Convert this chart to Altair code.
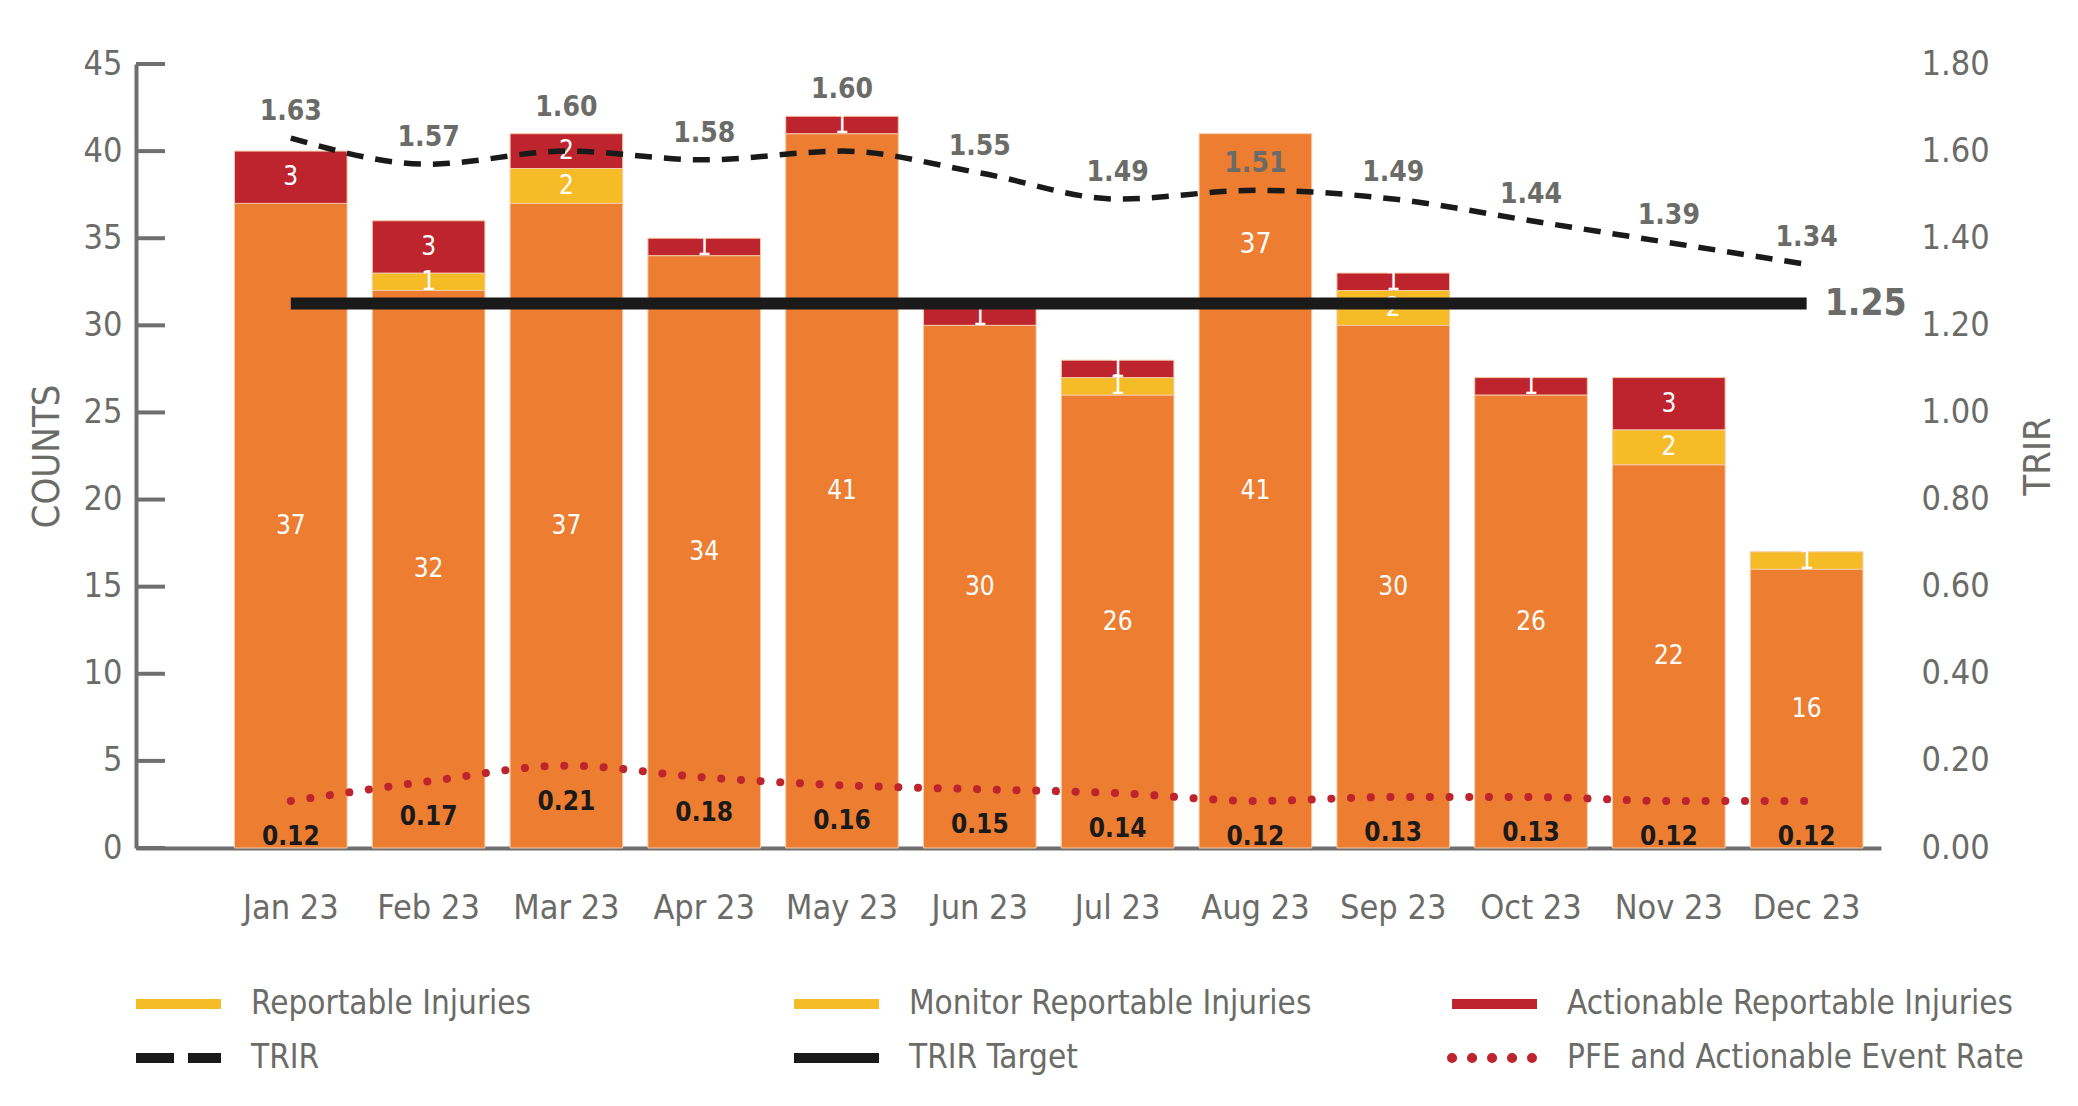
import altair as alt
import pandas as pd

# data
months = ["Jan 23", "Feb 23", "Mar 23", "Apr 23", "May 23", "Jun 23",
          "Jul 23", "Aug 23", "Sep 23", "Oct 23", "Nov 23", "Dec 23"]
reportable = [37, 32, 37, 34, 41, 30, 26, 41, 30, 26, 22, 16]
monitor = [0, 1, 2, 0, 0, 0, 1, 0, 2, 0, 2, 1]
actionable = [3, 3, 2, 1, 1, 1, 1, 0, 1, 1, 3, 0]
trir = [1.63, 1.57, 1.60, 1.58, 1.60, 1.55, 1.49, 1.51, 1.49, 1.44, 1.39, 1.34]
pfe_rate = [0.12, 0.17, 0.21, 0.18, 0.16, 0.15, 0.14, 0.12, 0.13, 0.13, 0.12, 0.12]
trir_target = 1.25
count_ticks = [0, 5, 10, 15, 20, 25, 30, 35, 40, 45]
trir_ticks = [0, 0.2, 0.4, 0.6, 0.8, 1.0, 1.2, 1.4, 1.6, 1.8]
extra_month = "Aug 23"
extra_label = "37"

series_names = ["Reportable Injuries", "Monitor Reportable Injuries", "Actionable Reportable Injuries"]
series_colors = ["#ED7D31", "#F5BC28", "#BE242D"]

legend_names = ["Reportable Injuries", "Monitor Reportable Injuries", "Actionable Reportable Injuries",
                "TRIR", "TRIR Target", "PFE and Actionable Event Rate"]
legend_colors = ["#F5BC28", "#F5BC28", "#BE242D", "#1a1a1a", "#1a1a1a", "#BE242D"]
legend_styles = ["solid", "solid", "solid", "dash", "solid", "dot"]

FONT = "DejaVu Sans Condensed, DejaVu Sans, sans-serif"
GRAY = "#6b6b68"
W, H = 1745, 784

# tables
rows = []
for i, m in enumerate(months):
    for k, vals in enumerate([reportable, monitor, actionable]):
        if vals[i] > 0:
            rows.append({"month": m, "series": series_names[k], "order": k, "count": vals[i]})
bars_df = pd.DataFrame(rows)
totals = [reportable[i] + monitor[i] + actionable[i] for i in range(len(months))]
line_df = pd.DataFrame({"month": months, "trir": trir, "pfe": pfe_rate, "total": totals})
target_df = pd.DataFrame({"month": [months[0], months[-1]], "target": [trir_target] * 2})
extra_df = pd.DataFrame({"month": [extra_month], "top": [totals[months.index(extra_month)]],
                         "label": [extra_label]})

x_scale = alt.Scale(paddingInner=0.183, paddingOuter=0.423, align=0.845)
x_enc = alt.X("month:N", sort=months, scale=x_scale,
              axis=alt.Axis(title=None, ticks=False, labelAngle=0, labelFontSize=34, labelColor=GRAY,
                            labelPadding=43, domainColor="#6f6f6f", domainWidth=4))
yl_scale = alt.Scale(domain=[0, 45], nice=False)
yr_scale = alt.Scale(domain=[0, 1.8], nice=False)
yp_scale = alt.Scale(domain=[0, 2.0], nice=False)

# left: stacked counts
stacked = alt.Chart(bars_df).transform_stack(
    stack="count", groupby=["month"], sort=[alt.SortField("order")], as_=["y0", "y1"]
).transform_calculate(mid="(datum.y0 + datum.y1) / 2")

bars = stacked.mark_bar(stroke="#f6c9a6", strokeWidth=1).encode(
    x=x_enc,
    y=alt.Y("y0:Q", scale=yl_scale,
            axis=alt.Axis(values=count_ticks, ticks=False, grid=False, domainColor="#6f6f6f", domainWidth=4,
                          labelFontSize=34, labelColor=GRAY, labelPadding=14,
                          title="COUNTS", titleFontSize=38, titleFontWeight="normal", titleColor=GRAY,
                          titlePadding=17)),
    y2="y1:Q",
    color=alt.Color("series:N", scale=alt.Scale(domain=series_names, range=series_colors), legend=None),
)
bar_labels = stacked.mark_text(color="white", fontSize=26, baseline="middle").encode(
    x=x_enc, y=alt.Y("mid:Q", scale=yl_scale), text="count:Q"
)
extra = alt.Chart(extra_df).mark_text(color="white", fontSize=28, baseline="middle", dy=111).encode(
    x=x_enc, y=alt.Y("top:Q", scale=yl_scale), text="label:N"
)
left_ticks = alt.Chart(pd.DataFrame({"v": count_ticks})).mark_rule(color="#6f6f6f", strokeWidth=4).encode(
    y=alt.Y("v:Q", scale=yl_scale), x=alt.value(0), x2=alt.value(29)
)
left = alt.layer(bars, bar_labels, extra, left_ticks)

# right: TRIR
trir_line = alt.Chart(line_df).mark_line(color="#1a1a1a", strokeWidth=5.5, strokeDash=[17, 12],
                                         interpolate="monotone").encode(
    x=x_enc,
    y=alt.Y("trir:Q", scale=yr_scale,
            axis=alt.Axis(orient="right", values=trir_ticks, format=".2f", ticks=False, domain=False, grid=False,
                          labelFontSize=34, labelColor=GRAY, labelPadding=40,
                          title="TRIR", titleAngle=270, titleBaseline="top", titleFontSize=38,
                          titleFontWeight="normal", titleColor=GRAY, titlePadding=30)),
)
# label sits above the line, or just above the bar when the bar barely pokes over the line
trir_labels = alt.Chart(line_df).transform_calculate(
    ly="(datum.total * 0.04 > datum.trir && datum.total * 0.04 - datum.trir < 0.1)"
       " ? datum.total * 0.04 + 0.06 : datum.trir + 0.06",
).mark_text(color=GRAY, fontSize=28, fontWeight="bold", baseline="middle").encode(
    x=x_enc, y=alt.Y("ly:Q", scale=yr_scale), text=alt.Text("trir:Q", format=".2f")
)
target_line = alt.Chart(target_df).mark_line(color="#1a1a1a", strokeWidth=12).encode(
    x=x_enc, y=alt.Y("target:Q", scale=yr_scale)
)
target_label = alt.Chart(target_df.tail(1)).mark_text(
    color=GRAY, fontSize=37, fontWeight="bold", align="left", baseline="middle", dx=18
).encode(x=x_enc, y=alt.Y("target:Q", scale=yr_scale), text=alt.Text("target:Q", format=".2f"))
right = alt.layer(trir_line, trir_labels, target_line, target_label)

# PFE rate (own hidden scale)
pfe_line = alt.Chart(line_df).mark_line(color="#BE242D", strokeWidth=8, strokeDash=[0.1, 19.6],
                                        strokeCap="round", interpolate="monotone").encode(
    x=x_enc, y=alt.Y("pfe:Q", scale=yp_scale, axis=None)
)
pfe_labels = alt.Chart(line_df).mark_text(color="#1a1a1a", fontSize=26, fontWeight="bold",
                                          baseline="middle", dy=36).encode(
    x=x_enc, y=alt.Y("pfe:Q", scale=yp_scale, axis=None), text=alt.Text("pfe:Q", format=".2f")
)
pfe = alt.layer(pfe_line, pfe_labels)

main = alt.layer(left, right, pfe).resolve_scale(y="independent").properties(width=W, height=H)

# legend
leg_df = pd.DataFrame({
    "name": legend_names, "color": legend_colors, "style": legend_styles,
    "col": [0, 1, 2, 0, 1, 2], "row": [0, 0, 0, 1, 1, 1],
})
leg = alt.Chart(leg_df).transform_calculate(
    x0="datum.col * 658", x1="datum.col * 658 + 85", xt="datum.col * 658 + 115"
)
leg_x = alt.Scale(domain=[0, W], nice=False)
leg_y = alt.Y("row:O", axis=None, scale=alt.Scale(paddingInner=0, paddingOuter=0))
swatch = leg.transform_filter("datum.style != 'dot'").mark_rule(strokeWidth=10).encode(
    x=alt.X("x0:Q", scale=leg_x, axis=None), x2="x1:Q", y=leg_y,
    color=alt.Color("color:N", scale=None),
    strokeDash=alt.StrokeDash("style:N", scale=alt.Scale(domain=["solid", "dash"], range=[[1, 0], [38, 14]]),
                              legend=None),
)
dots = leg.transform_filter("datum.style == 'dot'").transform_calculate(x1b="datum.x1 - 5").mark_rule(
    strokeWidth=10, strokeCap="round", strokeDash=[0.1, 19.9]
).encode(
    x=alt.X("x0:Q", scale=leg_x, axis=None), x2="x1b:Q", y=leg_y,
    color=alt.Color("color:N", scale=None),
)
leg_text = leg.mark_text(align="left", baseline="middle", fontSize=33, color=GRAY).encode(
    x=alt.X("xt:Q", scale=leg_x, axis=None), y=leg_y, text="name:N"
)
legend = alt.layer(swatch, dots, leg_text).properties(width=W, height=108)

chart = alt.vconcat(main, legend, spacing=52).properties(
    padding={"left": 20, "top": 39, "right": 5, "bottom": 5}
).configure(font=FONT).configure_view(stroke=None)

chart.save("out.html", embed_options={"renderer": "svg", "actions": False})
